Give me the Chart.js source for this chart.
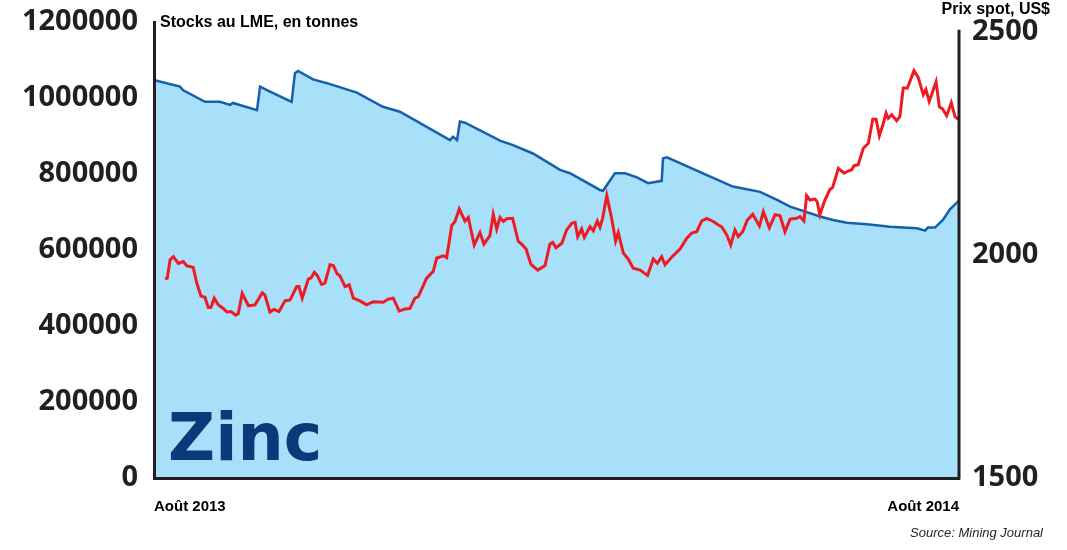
<!DOCTYPE html>
<html>
<head>
<meta charset="utf-8">
<script src="https://cdn.jsdelivr.net/npm/chart.js@4.4.0/dist/chart.umd.min.js"></script>
<style>
  html, body { margin: 0; padding: 0; background: #fff; }
  #wrap { width: 1067px; height: 550px; }
</style>
</head>
<body>
<div id="wrap"><canvas id="myChart" width="1067" height="550"></canvas></div>
<script>
// days since start of Aug 2013 (0 .. 365)
const xLabels = ["Août 2013", "Août 2014"];
const stockTitle = "Stocks au LME, en tonnes";
const priceTitle = "Prix spot, US$";
const metalName = "Zinc";
const sourceText = "Source: Mining Journal";

const stockDays = [0, 0, 11.8, 13.1, 23.1, 29.9, 34.5, 35.8, 46.7, 48.1, 52.6, 62.4, 63.9, 65.3, 72.1, 78.4, 92.0, 103.8, 111.5, 134.2, 135.6, 137.4, 138.7, 141.0, 156.9, 162.8, 171.8, 184.1, 188.6, 202.2, 203.6, 209.0, 213.6, 219.0, 224.0, 230.2, 230.8, 232.6, 250.7, 262.5, 274.8, 282.5, 288.4, 294.3, 302.0, 307.9, 314.2, 323.3, 333.7, 345.9, 349.6, 350.9, 354.1, 357.7, 360.9, 365];
const stockValues = [0, 1047000, 1030000, 1021000, 990000, 990000, 982000, 987000, 968000, 1030000, 1017000, 990000, 1065000, 1071000, 1049000, 1039000, 1014000, 977000, 964000, 889000, 898000, 889000, 938000, 935000, 888000, 876000, 854000, 811000, 802000, 758000, 756000, 802000, 802000, 791000, 776000, 782000, 841000, 844000, 797000, 767000, 753000, 732000, 714000, 703000, 688000, 679000, 672000, 668000, 661000, 657000, 651000, 659000, 659000, 679000, 707000, 730000];

const priceDays = [5.0, 6.0, 7.3, 8.8, 11.0, 13.3, 14.8, 17.8, 19.4, 21.3,
  23.1, 24.6, 25.8, 27.3, 29.2, 31.4, 33.0, 34.9, 37.0, 38.2,
  40.0, 42.8, 45.8, 49.1, 50.3, 52.6, 54.4, 56.7, 59.4, 61.7,
  64.7, 65.7, 67.2, 70.0, 71.2, 72.7, 74.0, 76.0, 77.5, 79.8,
  81.3, 83.1, 84.3, 86.6, 88.5, 90.4, 93.4, 96.4, 99.4, 104.0,
  106.2, 108.5, 111.2, 113.8, 116.1, 118.3, 119.8, 123.6, 126.6, 128.2,
  131.2, 132.7, 135.0, 136.5, 138.4, 141.0, 142.5, 145.2, 147.8, 149.6,
  152.3, 153.8, 155.4, 156.9, 158.4, 159.9, 162.6, 165.2, 166.7, 168.7,
  170.9, 174.0, 177.3, 179.5, 180.8, 182.3, 184.9, 187.1, 189.4, 190.9,
  192.1, 193.9, 195.1, 197.7, 199.2, 201.0, 202.2, 203.4, 205.3, 207.5,
  209.3, 210.5, 212.8, 215.0, 217.3, 220.4, 223.8, 226.4, 228.2, 230.2,
  231.7, 235.3, 238.5, 241.5, 243.8, 246.1, 248.3, 250.6, 253.6, 255.9,
  257.4, 259.7, 261.5, 263.4, 264.9, 266.9, 269.0, 271.5, 274.5, 276.3,
  279.0, 281.6, 283.8, 286.1, 288.4, 291.4, 292.9, 294.7, 295.9, 297.4,
  299.7, 300.7, 301.9, 304.2, 306.5, 307.7, 310.3, 312.9, 314.8, 316.3,
  317.4, 319.3, 321.6, 323.9, 325.9, 327.4, 328.9, 330.7, 331.9, 332.9,
  334.5, 336.7, 338.2, 339.7, 341.6, 344.6, 346.5, 348.8, 350.0, 351.5,
  354.6, 356.1, 357.6, 359.4, 361.5, 363.2, 364.7];
const priceValues = [1946, 1948, 1989, 1996, 1981, 1985, 1976, 1972, 1937, 1908,
  1905, 1882, 1882, 1903, 1888, 1880, 1872, 1873, 1865, 1868,
  1914, 1886, 1888, 1915, 1910, 1872, 1878, 1873, 1897, 1899,
  1929, 1929, 1903, 1946, 1948, 1961, 1954, 1934, 1937, 1978,
  1976, 1957, 1953, 1929, 1933, 1903, 1897, 1888, 1895, 1894,
  1901, 1903, 1874, 1879, 1880, 1903, 1906, 1948, 1963, 1993,
  1998, 1994, 2066, 2075, 2103, 2076, 2084, 2022, 2050, 2024,
  2043, 2091, 2058, 2084, 2075, 2081, 2082, 2030, 2024, 2013,
  1979, 1966, 1976, 2024, 2028, 2016, 2026, 2056, 2071, 2073,
  2041, 2058, 2039, 2063, 2054, 2076, 2062, 2082, 2133, 2082,
  2031, 2050, 2004, 1991, 1970, 1966, 1954, 1991, 1981, 1996,
  1978, 1998, 2013, 2037, 2049, 2052, 2076, 2082, 2075, 2067,
  2063, 2045, 2022, 2056, 2041, 2052, 2078, 2091, 2065, 2097,
  2061, 2090, 2088, 2052, 2080, 2082, 2086, 2076, 2133, 2123,
  2125, 2119, 2090, 2123, 2147, 2151, 2194, 2183, 2188, 2191,
  2200, 2202, 2239, 2250, 2304, 2304, 2267, 2295, 2318, 2306,
  2314, 2301, 2310, 2374, 2374, 2413, 2398, 2359, 2371, 2344,
  2388, 2332, 2327, 2312, 2341, 2310, 2304];

const priceTicks = [1500, 2000, 2500];

const dark = "#231f20";
const tickFont = { family: '"Open Sans", sans-serif', size: 29, weight: "bold" };

const toPoints = (xs, ys) => xs.map((x, i) => ({ x: x, y: ys[i] }));

const overlay = {
  id: "overlay",
  afterDatasetsDraw(chart) {
    const ctx = chart.ctx;
    ctx.save();
    ctx.fillStyle = "#0a3a7a";
    ctx.font = 'bold 65px "DejaVu Sans", sans-serif';
    ctx.textAlign = "left";
    ctx.textBaseline = "alphabetic";
    ctx.fillText(metalName, 168, 460);
    ctx.restore();
  },
  afterDraw(chart) {
    const ctx = chart.ctx;
    const area = chart.chartArea;
    const y1 = chart.scales.y1;
    ctx.save();
    ctx.strokeStyle = dark;
    ctx.lineWidth = 3;
    ctx.beginPath();
    ctx.moveTo(area.right, y1.getPixelForValue(2500) - 2);
    ctx.lineTo(area.right, area.bottom + 1.5);
    ctx.stroke();

    ctx.fillStyle = "#000";
    ctx.textBaseline = "middle";
    ctx.font = 'bold 16px "Liberation Sans", Arial, sans-serif';
    ctx.textAlign = "left";
    ctx.fillText(stockTitle, area.left + 6, 23);
    ctx.textAlign = "right";
    ctx.fillText(priceTitle, 1050, 10);

    ctx.font = 'italic 13px "Liberation Sans", Arial, sans-serif';
    ctx.fillStyle = dark;
    ctx.fillText(sourceText, 1043, 533);
    ctx.restore();
  }
};

const noPad = (s, w) => {
  s.width = w;
  s.paddingTop = 0;
  s.paddingBottom = 0;
};

new Chart(document.getElementById("myChart"), {
  type: "line",
  data: {
    datasets: [
      {
        label: "Prix spot",
        data: toPoints(priceDays, priceValues),
        yAxisID: "y1",
        borderColor: "#ed1c24",
        borderWidth: 3,
        pointRadius: 0,
        tension: 0,
        fill: false,
        order: 0
      },
      {
        label: "Stocks",
        data: toPoints(stockDays, stockValues),
        yAxisID: "y",
        borderColor: "#1560ac",
        backgroundColor: "#a9e0f9",
        borderWidth: 2.5,
        pointRadius: 0,
        tension: 0,
        fill: "origin",
        order: 1
      }
    ]
  },
  options: {
    responsive: false,
    animation: false,
    events: [],
    layout: { padding: { top: 22, left: 0, right: 0, bottom: 0 } },
    plugins: { legend: { display: false }, tooltip: { enabled: false } },
    scales: {
      x: {
        type: "linear",
        min: 0,
        max: 365,
        afterFit: (s) => { s.height = 72; s.paddingLeft = 0; s.paddingRight = 0; },
        afterBuildTicks: (s) => { s.ticks = [{ value: 0 }, { value: 365 }]; },
        grid: { display: false, drawTicks: false },
        border: { display: true, color: dark, width: 3, z: 1 },
        ticks: {
          align: "inner",
          padding: 20,
          maxRotation: 0,
          color: "#000",
          font: { family: '"Liberation Sans", Arial, sans-serif', size: 15, weight: "bold" },
          callback: (v) => (v === 0 ? xLabels[0] : xLabels[1])
        }
      },
      y: {
        position: "left",
        min: 0,
        max: 1200000,
        afterFit: (s) => noPad(s, 154),
        grid: { display: false, drawTicks: false },
        border: { display: true, color: dark, width: 3, z: 1 },
        ticks: { stepSize: 200000, padding: 16, color: dark, font: tickFont, callback: (v) => String(v) }
      },
      y1: {
        position: "right",
        min: 1500,
        max: 2522,
        afterFit: (s) => noPad(s, 108),
        afterBuildTicks: (s) => { s.ticks = priceTicks.map((v) => ({ value: v })); },
        grid: { display: false, drawTicks: false },
        border: { display: false },
        ticks: { padding: 13, color: dark, font: tickFont, callback: (v) => String(v) }
      }
    }
  },
  plugins: [overlay]
});
</script>
</body>
</html>
